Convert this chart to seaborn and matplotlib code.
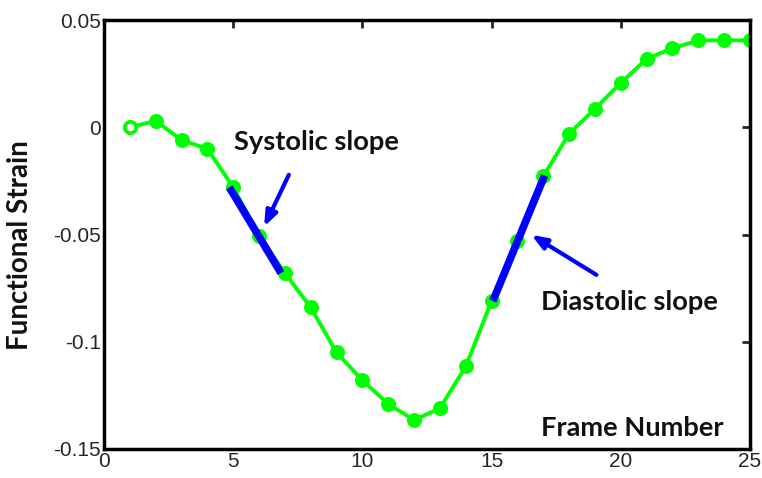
import matplotlib
matplotlib.use("Agg")
import matplotlib.pyplot as plt
import seaborn as sns
import pandas as pd

frames = list(range(1, 26))
strain = [0.0, 0.003, -0.006, -0.010, -0.028, -0.0505, -0.068, -0.084, -0.105, -0.118,
          -0.129, -0.1365, -0.131, -0.1115, -0.081, -0.053, -0.0229, -0.003, 0.0086, 0.0207,
          0.0319, 0.0368, 0.0405, 0.0405, 0.0405]
sys_x = [4.85, 6.85]
sys_y = [-0.028, -0.068]
dia_x = [15.05, 17.05]
dia_y = [-0.081, -0.0225]
xticks = [0, 5, 10, 15, 20, 25]
yticks = [-0.15, -0.1, -0.05, 0, 0.05]
ytick_labels = ["-0.15", "-0.1", "-0.05", "0", "0.05"]

sns.set_style("white")
plt.rcParams["font.family"] = ["Liberation Sans", "DejaVu Sans"]

fig = plt.figure(figsize=(7.62, 4.78), dpi=100)
ax = fig.add_axes([104/762, 1 - 449/478, (750-104)/762, (449-20)/478])

df = pd.DataFrame({"frame": frames, "strain": strain})
sns.lineplot(data=df, x="frame", y="strain", ax=ax, color="#00ff00", linewidth=2.8,
             marker="o", markersize=10, markeredgecolor="#00ff00", markerfacecolor="#00ff00")
ax.plot(frames[0], strain[0], marker="o", markersize=8, markerfacecolor="white",
        markeredgecolor="#00ff00", markeredgewidth=2.5, zorder=5)
ax.plot(sys_x, sys_y, color="#0000ff", linewidth=5.5, solid_capstyle="butt", zorder=6)
ax.plot(dia_x, dia_y, color="#0000ff", linewidth=5.5, solid_capstyle="butt", zorder=6)

ax.annotate("", xy=(6.15, -0.0475), xytext=(7.2, -0.021),
            arrowprops=dict(arrowstyle="-|>,head_length=0.9,head_width=0.35", color="#0000ff", lw=3))
ax.annotate("", xy=(16.45, -0.0495), xytext=(19.15, -0.0695),
            arrowprops=dict(arrowstyle="-|>,head_length=0.9,head_width=0.35", color="#0000ff", lw=3))

tfont = dict(family=["Lato", "DejaVu Sans"], fontweight="bold", fontsize=19.6, color="#111111")
ax.text(8.24, -0.0104, "Systolic slope", ha="center", va="baseline", **tfont)
ax.text(20.32, -0.0852, "Diastolic slope", ha="center", va="baseline", **tfont)
ax.text(20.43, -0.1439, "Frame Number", ha="center", va="baseline", **tfont)

ax.set_xlim(0, 25)
ax.set_ylim(-0.15, 0.05)
ax.set_xticks(xticks)
ax.set_yticks(yticks)
ax.set_yticklabels(ytick_labels)
ax.set_xlabel("")
ax.set_ylabel("Functional Strain", fontsize=20, fontweight="bold",
              family=["Lato", "DejaVu Sans"], color="#111111")
ax.yaxis.set_label_coords(-0.11, 0.4755)
ax.tick_params(direction="in", length=6, width=2, top=True, right=True, labelsize=15, pad=2)
for s in ax.spines.values():
    s.set_linewidth(2.5)
    s.set_color("black")

fig.savefig("out.png", dpi=100)
